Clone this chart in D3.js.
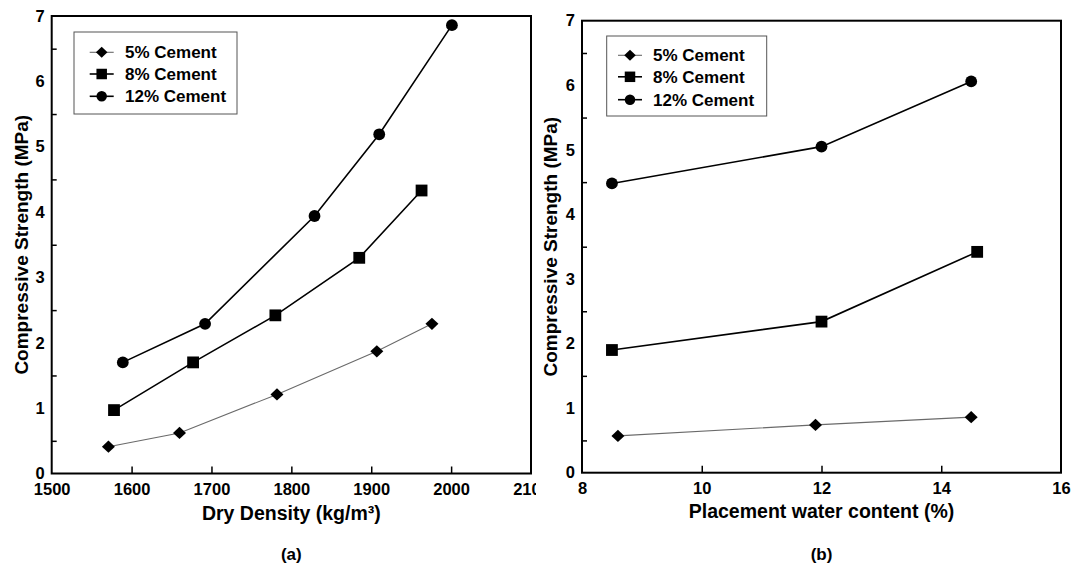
<!DOCTYPE html>
<html><head><meta charset="utf-8">
<script src="https://cdn.jsdelivr.net/npm/d3@7"></script>
<style>
body{margin:0;background:#fff;}
text{font-family:"Liberation Sans",Arial,sans-serif;font-weight:bold;fill:#000;}
</style></head>
<body>
<svg id="chart" width="1072" height="569"></svg>
<script>
// ---- data ----
const seriesNames = ["5% Cement", "8% Cement", "12% Cement"];
const densityA5 = [1571, 1660, 1782, 1907, 1976];
const strengthA5 = [0.41, 0.62, 1.21, 1.87, 2.29];
const densityA8 = [1578, 1677, 1780, 1885, 1963];
const strengthA8 = [0.97, 1.70, 2.42, 3.30, 4.33];
const densityA12 = [1589, 1692, 1829, 1910, 2001];
const strengthA12 = [1.70, 2.29, 3.94, 5.19, 6.86];
const waterB5 = [8.6, 11.9, 14.5];
const strengthB5 = [0.57, 0.74, 0.86];
const waterB8 = [8.5, 12.0, 14.6];
const strengthB8 = [1.90, 2.34, 3.42];
const waterB12 = [8.5, 12.0, 14.5];
const strengthB12 = [4.48, 5.05, 6.06];
const xTicksA = [1500, 1600, 1700, 1800, 1900, 2000, 2100];
const xTicksB = [8, 10, 12, 14, 16];
const yTicks = [0, 1, 2, 3, 4, 5, 6, 7];
const yMinorTicks = [0.5, 1.5, 2.5, 3.5, 4.5, 5.5, 6.5];

const svg = d3.select("#chart");
const markerTypes = [d3.symbolDiamond2, d3.symbolSquare2, d3.symbolCircle];
const styles = [
  {stroke:"#6a6a6a", width:1.1, shape:"diamond"},
  {stroke:"#000", width:1.6, shape:"square"},
  {stroke:"#000", width:1.6, shape:"circle"}
];

function drawMarker(g, shape, x, y, s) {
  if (shape === "circle") {
    g.append("circle").attr("cx", x).attr("cy", y).attr("r", s * 0.5).attr("fill", "#000");
  } else if (shape === "square") {
    g.append("rect").attr("x", x - s / 2).attr("y", y - s / 2).attr("width", s).attr("height", s).attr("fill", "#000");
  } else {
    const h = s * 0.55, v = s * 0.52;
    g.append("path").attr("d", `M${x},${y - v}L${x + h},${y}L${x},${y + v}L${x - h},${y}Z`).attr("fill", "#000");
  }
}

function panel(cfg) {
  const x = d3.scaleLinear().domain(cfg.xDomain).range([cfg.left, cfg.right]);
  const y = d3.scaleLinear().domain([0, 7]).range([cfg.bottom, cfg.top]);
  const g = svg.append("g");

  // x axis ticks (inward) + labels
  const xa = g.append("g").attr("transform", `translate(0,${cfg.bottom})`)
    .call(d3.axisBottom(x).tickValues(cfg.xTicks).tickSize(-7).tickPadding(10).tickFormat(d3.format("d")));
  xa.select(".domain").remove();
  xa.selectAll("line").attr("stroke", "#000").attr("stroke-width", 1.5);
  xa.selectAll("text").style("font-size", "16.5px").attr("fill", "#000");
  // hide the first and last inner tick marks (on the frame)
  xa.selectAll(".tick").filter(d => d === cfg.xTicks[0] || d === cfg.xTicks[cfg.xTicks.length - 1]).select("line").remove();
  if (cfg.clipLast) {
    const id = "clip" + cfg.id;
    svg.append("clipPath").attr("id", id).append("rect").attr("x", 0).attr("y", 0).attr("width", cfg.clipLast).attr("height", 569);
    xa.attr("clip-path", null);
    xa.selectAll(".tick").filter(d => d === cfg.xTicks[cfg.xTicks.length - 1]).select("text").attr("clip-path", `url(#${id})`);
    // the clip must be in svg space; wrap via group
    const last = xa.selectAll(".tick").filter(d => d === cfg.xTicks[cfg.xTicks.length - 1]);
    last.select("text").attr("clip-path", null);
    xa.attr("clip-path", `url(#${id})`);
    svg.select(`#${id} rect`).attr("y", -600).attr("height", 1200);
  }

  // y axis labels
  const ya = g.append("g").attr("transform", `translate(${cfg.left},0)`)
    .call(d3.axisLeft(y).tickValues(yTicks).tickSize(0).tickPadding(7).tickFormat(d3.format("d")));
  ya.select(".domain").remove();
  ya.selectAll("text").style("font-size", "16.5px").attr("fill", "#000");
  const ym = g.append("g").attr("transform", `translate(${cfg.left},0)`)
    .call(d3.axisLeft(y).tickValues(yMinorTicks).tickSize(-5).tickFormat(""));
  ym.select(".domain").remove();
  ym.selectAll("line").attr("stroke", "#000").attr("stroke-width", 1.5);

  // frame
  g.append("rect").attr("x", cfg.left).attr("y", cfg.top)
    .attr("width", cfg.right - cfg.left).attr("height", cfg.bottom - cfg.top)
    .attr("fill", "none").attr("stroke", "#000").attr("stroke-width", 2);

  // series
  cfg.series.forEach((s, i) => {
    const pts = s.xs.map((v, j) => [x(v), y(s.ys[j])]);
    g.append("path").attr("d", d3.line()(pts)).attr("fill", "none")
      .attr("stroke", styles[i].stroke).attr("stroke-width", styles[i].width);
    pts.forEach(p => drawMarker(g, styles[i].shape, p[0], p[1], 11.8));
  });

  // legend
  const L = cfg.legend;
  g.append("rect").attr("x", L.x0).attr("y", L.y0).attr("width", L.x1 - L.x0).attr("height", L.y1 - L.y0)
    .attr("fill", "#fff").attr("stroke", "#555").attr("stroke-width", 1);
  seriesNames.forEach((name, i) => {
    const ry = L.rows[i];
    g.append("line").attr("x1", L.mx - 12).attr("x2", L.mx + 12).attr("y1", ry).attr("y2", ry)
      .attr("stroke", styles[i].stroke).attr("stroke-width", styles[i].width);
    drawMarker(g, styles[i].shape, L.mx, ry, 10.5);
    g.append("text").attr("x", L.tx).attr("y", ry).attr("dy", "0.36em")
      .style("font-size", "17px").text(name);
  });

  // axis titles
  g.append("text").attr("x", (cfg.left + cfg.right) / 2).attr("y", cfg.xTitleY)
    .attr("text-anchor", "middle").style("font-size", "19.5px").html(cfg.xTitle);
  g.append("text").attr("transform", `translate(${cfg.yTitleX},${(cfg.top + cfg.bottom) / 2}) rotate(-90)`)
    .attr("text-anchor", "middle").attr("dy", "0.36em").style("font-size", "19px").text("Compressive Strength (MPa)");
  g.append("text").attr("x", (cfg.left + cfg.right) / 2).attr("y", 560)
    .attr("text-anchor", "middle").style("font-size", "17px").text(cfg.tag);
}

panel({
  id: "a", xDomain: [1500, 2100], left: 51.7, right: 531, top: 16, bottom: 473.5,
  xTicks: xTicksA, clipLast: 536,
  series: [
    {xs: densityA5, ys: strengthA5},
    {xs: densityA8, ys: strengthA8},
    {xs: densityA12, ys: strengthA12}
  ],
  legend: {x0: 74, x1: 237, y0: 32, y1: 114, rows: [52.3, 74, 96.3], mx: 101.7, tx: 125},
  xTitle: "Dry Density (kg/m³)", xTitleY: 520, yTitleX: 21, tag: "(a)"
});

panel({
  id: "b", xDomain: [8, 16], left: 582, right: 1061, top: 20.7, bottom: 472.7,
  xTicks: xTicksB, clipLast: null,
  series: [
    {xs: waterB5, ys: strengthB5},
    {xs: waterB8, ys: strengthB8},
    {xs: waterB12, ys: strengthB12}
  ],
  legend: {x0: 606.7, x1: 766.7, y0: 36, y1: 116, rows: [55.3, 76.8, 99.7], mx: 630, tx: 653},
  xTitle: "Placement water content (%)", xTitleY: 518, yTitleX: 550, tag: "(b)"
});
</script>
</body></html>
